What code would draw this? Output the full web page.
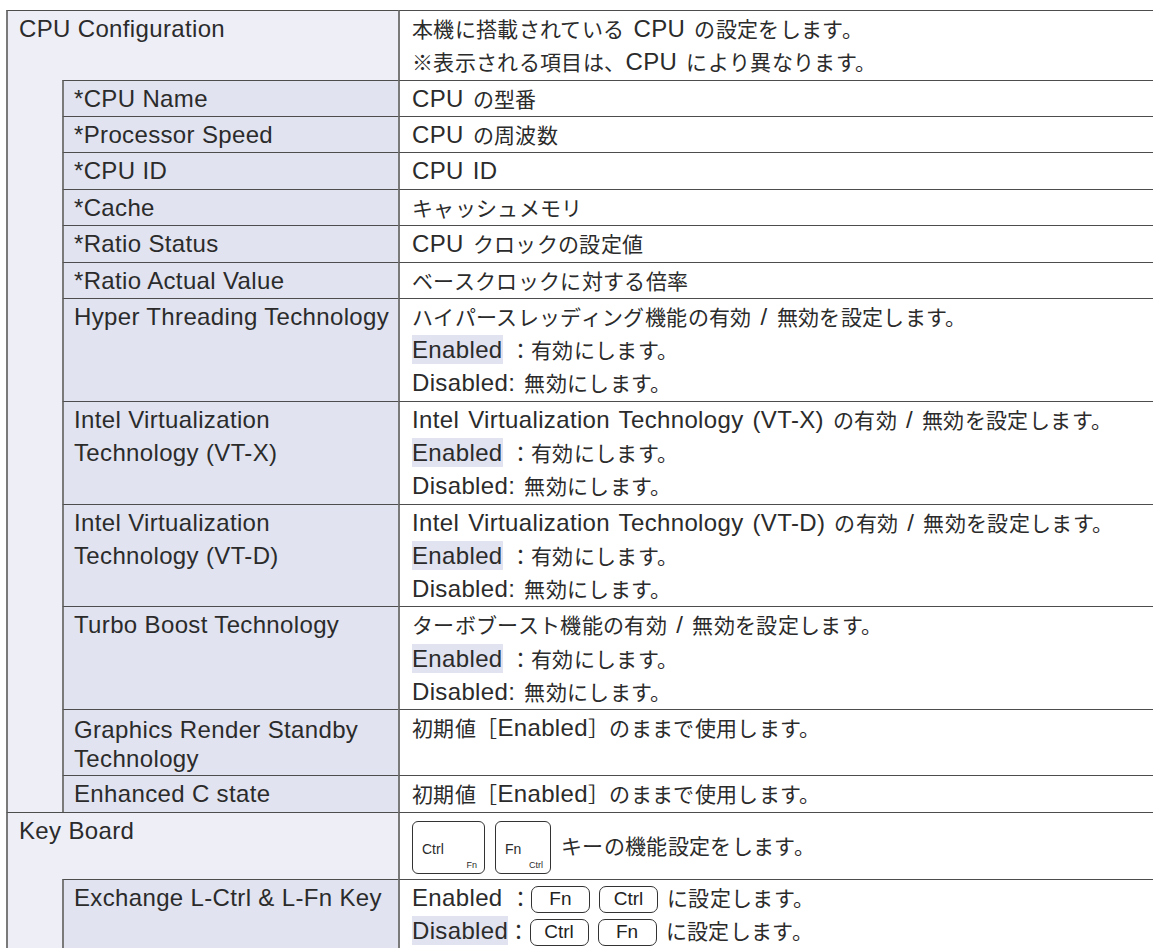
<!DOCTYPE html>
<html lang="ja">
<head>
<meta charset="utf-8">
<script src="https://cdn.jsdelivr.net/npm/chart.js@4.4.1/dist/chart.umd.min.js"></script>
<style>
@font-face { font-family: "JPs"; src: local("Noto Sans CJK JP"), local("NotoSansCJKjp-Regular"), local("Noto Sans CJK JP Regular"); size-adjust: 87.5%; }
html,body{margin:0;padding:0;background:#fff;width:1153px;height:950px;overflow:hidden;}
#wrap{position:absolute;left:6px;top:10px;}
table{border-collapse:separate;border-spacing:0;table-layout:fixed;width:1160px;letter-spacing:0.35px;
  font-family:"Liberation Sans","JPs","Noto Sans CJK JP",sans-serif;font-size:24px;color:#2b2b2b;}
td{vertical-align:top;padding:1.1px 0 1.1px 0;line-height:33.2px;border-top:1px solid #4d4d4d;border-left:2px solid #7a7a7a;white-space:nowrap;box-sizing:border-box;}
td.sec{background:#eeeef7;padding-left:11px;}
td.ind{background:#eeeef7;border-top:none;}
td.lab{background:#e1e3f0;padding-left:10px;}
td.lab.tight{line-height:29px;padding-top:4.5px;padding-bottom:2.5px;}
td.desc{background:#fff;padding-left:12px;word-spacing:2px;}
.hl{background:#e1e3f0;padding:1px 0;}
.ns{word-spacing:0;}
.key{display:inline-block;box-sizing:border-box;height:27px;width:59px;border:1.4px solid #333;border-radius:7px;word-spacing:0;letter-spacing:0;
  font-size:19px;line-height:24px;text-align:center;vertical-align:middle;position:relative;top:2px;margin-top:-4px;color:#222;}
.big{display:inline-block;position:relative;box-sizing:border-box;height:53px;border:1.4px solid #333;border-radius:6px;vertical-align:middle;top:2px;letter-spacing:0;}
.big .m{position:absolute;left:9px;top:19px;font-size:14px;line-height:16px;}
.big .s{position:absolute;right:7px;bottom:3px;font-size:9px;line-height:10px;}
.kbrow{display:flex;align-items:center;height:64px;}
</style>
</head>
<body>
<div id="wrap"><table id="tbl"><colgroup><col style="width:56px"><col style="width:336px"><col></colgroup><tbody></tbody></table></div>
<script>
// ---- data ----
const sectionLabels = ["CPU Configuration", "Key Board"];
const sectionDescs = [
  ["本機に搭載されている CPU の設定をします。", "※表示される項目は、CPU により異なります。"],
  ["{Ctrl|Fn}{Fn|Ctrl}キーの機能設定をします。"]
];
const itemLabels = [
  "*CPU Name", "*Processor Speed", "*CPU ID", "*Cache", "*Ratio Status", "*Ratio Actual Value",
  "Hyper Threading Technology", "Intel Virtualization\nTechnology (VT-X)", "Intel Virtualization\nTechnology (VT-D)",
  "Turbo Boost Technology", "Graphics Render Standby\nTechnology", "Enhanced C state",
  "Exchange L-Ctrl & L-Fn Key"
];
const itemSection = [0,0,0,0,0,0,0,0,0,0,0,0,1];
const itemDescs = [
  ["CPU の型番"],
  ["CPU の周波数"],
  ["CPU ID"],
  ["キャッシュメモリ"],
  ["CPU クロックの設定値"],
  ["ベースクロックに対する倍率"],
  ["ハイパースレッディング機能の有効 / 無効を設定します。", "[Enabled] ：有効にします。", "Disabled: 無効にします。"],
  ["Intel Virtualization Technology (VT-X) の有効 / 無効を設定します。", "[Enabled] ：有効にします。", "Disabled: 無効にします。"],
  ["Intel Virtualization Technology (VT-D) の有効 / 無効を設定します。", "[Enabled] ：有効にします。", "Disabled: 無効にします。"],
  ["ターボブースト機能の有効 / 無効を設定します。", "[Enabled] ：有効にします。", "Disabled: 無効にします。"],
  ["初期値［Enabled］のままで使用します。"],
  ["初期値［Enabled］のままで使用します。"],
  ["Enabled ：<Fn> <Ctrl> に設定します。", "[Disabled]：<Ctrl> <Fn> に設定します。"]
];
const tightLabels = ["Graphics Render Standby\nTechnology"];

// ---- build ----
function esc(s){return s.replace(/&/g,"&amp;").replace(/</g,"&lt;").replace(/>/g,"&gt;");}
function fmtLine(s){
  let out = "";
  const re = /\{([^|}]+)\|([^}]+)\}|<([A-Za-z]+)>|\[([A-Za-z]+)\]| ：/g;
  let last = 0, m;
  while((m = re.exec(s))){
    out += esc(s.slice(last, m.index));
    if(m[1]){
      const w = m[1] === "Ctrl" ? 73 : 56;
      out += '<span class="big" style="width:'+w+'px;margin-right:10px"><span class="m">'+m[1]+'</span><span class="s">'+m[2]+'</span></span>';
    } else if(m[3]){
      out += '<span class="key">'+m[3]+'</span>';
    } else if(m[4]){
      out += '<span class="hl">'+m[4]+'</span>';
    } else {
      out += '<span class="ns"> </span>：';
    }
    last = re.lastIndex;
  }
  out += esc(s.slice(last));
  return out;
}
function descHtml(lines){
  if(lines.length===1 && lines[0].indexOf("{")>=0){
    return '<div class="kbrow">'+fmtLine(lines[0])+'</div>';
  }
  return lines.map(fmtLine).join("<br>");
}
const tbody = document.querySelector("#tbl tbody");
sectionLabels.forEach((label, si) => {
  const tr = document.createElement("tr");
  tr.innerHTML = '<td class="sec" colspan="2">'+esc(label)+'</td><td class="desc">'+descHtml(sectionDescs[si])+'</td>';
  tbody.appendChild(tr);
  const idx = itemSection.map((s,i)=>s===si?i:-1).filter(i=>i>=0);
  idx.forEach((i, k) => {
    const r = document.createElement("tr");
    let h = "";
    if(k===0) h += '<td class="ind" rowspan="'+idx.length+'"></td>';
    const tight = tightLabels.includes(itemLabels[i]) ? " tight" : "";
    h += '<td class="lab'+tight+'">'+esc(itemLabels[i]).replace(/\n/g,"<br>")+'</td>';
    h += '<td class="desc">'+descHtml(itemDescs[i])+'</td>';
    r.innerHTML = h;
    tbody.appendChild(r);
  });
});
</script>
</body>
</html>
